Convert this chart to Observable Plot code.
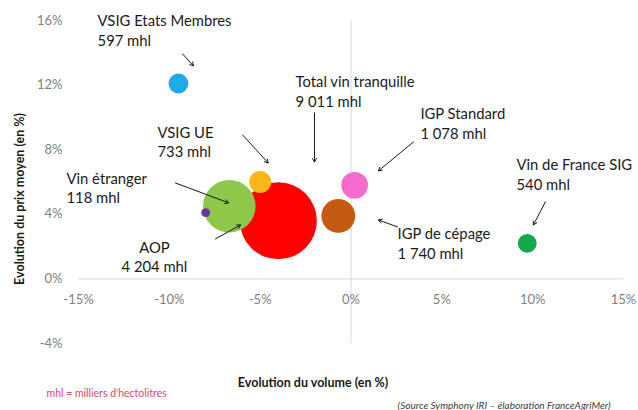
<!DOCTYPE html>
<html>
<head>
<meta charset="utf-8">
<script src="https://cdn.jsdelivr.net/npm/d3@7"></script>
<script src="https://cdn.jsdelivr.net/npm/@observablehq/plot@0.6"></script>
<style>
  html, body { margin: 0; padding: 0; background: #fff; }
  #chart svg { display: block; }
</style>
</head>
<body>
<div id="chart"></div>
<script>
// ---- data ----
const categories = ["Total vin tranquille", "AOP", "VSIG UE", "Vin étranger", "IGP de cépage", "IGP Standard", "VSIG Etats Membres", "Vin de France SIG"];
const volumeChange = [-4.0, -6.7, -5.0, -8.0, -0.7, 0.2, -9.5, 9.7];   // % x
const priceChange  = [3.6, 4.5, 6.0, 4.1, 3.9, 5.8, 12.1, 2.2];       // % y
const volumeMhl    = [9011, 4204, 733, 118, 1740, 1078, 597, 540];
const bubbleColors = ["#FF0000", "#8DC84B", "#F9B71A", "#7030A0", "#C55A11", "#F46BCB", "#1FAAE8", "#16A84E"];

// annotation anchors (in data units, %)
const labelX = [-3.05, -10.82, -10.65, -15.66, 2.56, 3.82, -13.95, 9.11];
const labelY = [11.64, 1.39, 8.51, 5.67, 2.23, 9.66, 15.42, 6.50];
const labelAlign = ["start", "middle", "start", "start", "start", "start", "start", "start"];
const arrowX1 = [-2.01, -7.46, -5.97, -9.66, 2.56, 3.44, -9.27, 10.70];
const arrowY1 = [10.28, 2.48, 8.92, 5.94, 3.22, 8.48, 13.93, 4.77];
const arrowX2 = [-2.01, -6.08, -4.56, -6.74, 1.51, 1.51, -8.67, 10.04];
const arrowY2 = [7.24, 3.34, 7.18, 4.71, 3.65, 6.69, 13.19, 3.34];

const xTicks = [-15, -10, -5, 0, 5, 10, 15];
const yTicks = [-4, 0, 4, 8, 12, 16];

const xTitle = "Evolution du volume (en %)";
const yTitle = "Evolution du prix moyen (en %)";
const noteText = "mhl = milliers d'hectolitres";
const sourceText = "(Source Symphony IRI – élaboration FranceAgriMer)";

// ---- build table ----
const fmtThousands = v => String(v).replace(/\B(?=(\d{3})+(?!\d))/g, "\u00a0");
const rows = categories.map((c, i) => ({
  name: c, x: volumeChange[i], y: priceChange[i], vol: volumeMhl[i], color: bubbleColors[i],
  label: `${c}\n${fmtThousands(volumeMhl[i])} mhl`,
  lx: labelX[i], ly: labelY[i], align: labelAlign[i],
  ax1: arrowX1[i], ay1: arrowY1[i], ax2: arrowX2[i], ay2: arrowY2[i]
}));

const font = "Lato, 'Open Sans', sans-serif";
const labelStyle = { x: "lx", y: "ly", text: "label", lineAnchor: "middle", lineHeight: 1.32, fontSize: 14.8, fill: "#1a1a1a" };

const chart = Plot.plot({
  width: 638,
  height: 410,
  marginTop: 20,
  marginBottom: 67,
  marginLeft: 78,
  marginRight: 15,
  style: { fontFamily: font, background: "#fff", overflow: "visible" },
  x: { domain: [-15, 15], axis: null },
  y: { domain: [-4, 16], axis: null },
  r: { type: "sqrt", domain: [0, 9011], range: [0, 38.5] },
  marks: [
    Plot.ruleY([0], { stroke: "#d9d9d9", strokeWidth: 1 }),
    Plot.ruleX([0], { stroke: "#d9d9d9", strokeWidth: 1 }),
    Plot.axisY({ ticks: yTicks, tickSize: 0, tickPadding: 16, tickFormat: d => d + "%", fontSize: 13, fill: "#7f7f7f", label: null }),
    Plot.text(xTicks, { x: d => d, y: 0, dy: 21, text: d => d + "%", fontSize: 13, fill: "#7f7f7f" }),
    Plot.dot(rows, { x: "x", y: "y", r: "vol", fill: "color", stroke: null }),
    Plot.arrow(rows, { x1: "ax1", y1: "ay1", x2: "ax2", y2: "ay2", stroke: "#1a1a1a", strokeWidth: 1, headLength: 6, bend: false }),
    Plot.text(rows, { ...labelStyle, filter: d => d.align === "start", textAnchor: "start" }),
    Plot.text(rows, { ...labelStyle, filter: d => d.align === "middle", textAnchor: "middle" }),
    Plot.text([xTitle], { frameAnchor: "bottom", textAnchor: "middle", lineAnchor: "middle", dx: -38, dy: 39, text: d => d, fontSize: 12.5, fontWeight: "bold", fill: "#1a1a1a" }),
    Plot.text([yTitle], { frameAnchor: "left", textAnchor: "middle", lineAnchor: "middle", rotate: -90, dx: -59, dy: 17, text: d => d, fontSize: 12.5, fontWeight: "bold", fill: "#1a1a1a" }),
    Plot.text([noteText], { frameAnchor: "bottom-left", textAnchor: "start", lineAnchor: "middle", dx: -32, dy: 50, text: d => d, fontSize: 10.5, fill: "#d9486a" }),
    Plot.text([sourceText], { frameAnchor: "bottom-right", textAnchor: "end", lineAnchor: "middle", dx: -13, dy: 62, text: d => d, fontSize: 10, fontStyle: "italic", fill: "#404040" })
  ]
});
document.getElementById("chart").appendChild(chart);
</script>
</body>
</html>
